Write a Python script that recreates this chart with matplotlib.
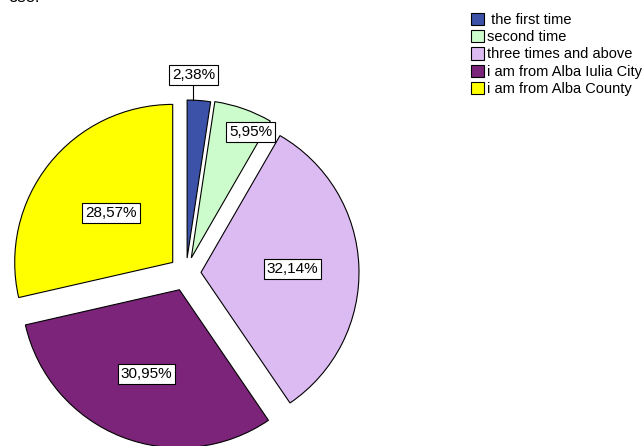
import numpy as np
import matplotlib.pyplot as plt

# visit frequency shares (percent)
labels = [" the first time", "second time", "three times and above",
          "i am from Alba Iulia City", "i am from Alba County"]
values = [2.38, 5.95, 32.14, 30.95, 28.57]
colors = ["#3c52a8", "#ccfccc", "#dcbaf2", "#7b2479", "#ffff00"]
explode = [15, 16, 15, 18, 17]
label_dist = [1.16, 0.88, 0.58, 0.57, 0.5]
label_turn = [2, -6, 0, 0, 0]   # degrees, nudges label around the slice

plt.rcParams["font.family"] = ["Liberation Sans", "DejaVu Sans"]

fig = plt.figure(figsize=(6.44, 4.46), dpi=100)
ax = fig.add_axes([0, 0, 1, 1])

wedges, _ = ax.pie(values, colors=colors, startangle=90, counterclock=False,
                   explode=explode, radius=158, center=(186, 173),
                   wedgeprops=dict(edgecolor="black", linewidth=0.8))
ax.set_xlim(0, 644)
ax.set_ylim(0, 446)
ax.set_aspect("equal")
ax.axis("off")

box = dict(boxstyle="square,pad=0.2", facecolor="white", edgecolor="black", linewidth=0.8)
for w, v, d, turn in zip(wedges, values, label_dist, label_turn):
    t = np.deg2rad((w.theta1 + w.theta2) / 2 + turn)
    cx, cy = w.center
    lx = cx + d * w.r * np.cos(t)
    ly = cy + d * w.r * np.sin(t)
    if d > 1:
        # leader line from outer edge up to the label box
        ex = cx + w.r * np.cos(t)
        ey = cy + w.r * np.sin(t)
        ax.plot([ex, ex], [ey, ly - 9], color="black", linewidth=0.8)
        lx = ex
    ax.text(lx, ly, f"{v:.2f}%".replace(".", ","), ha="center", va="center",
            fontsize=11, bbox=box)

ax.legend(wedges, labels, loc="upper left", bbox_to_anchor=(465 / 644, 1 - 7 / 446),
          frameon=False, fontsize=10.5, handlelength=0.9, handleheight=0.9,
          handletextpad=0.2, labelspacing=0.22, borderaxespad=0)

# bits of the cropped caption line above the chart
fig.text(8 / 644, 1 + 10 / 446, "ose.", fontsize=12, va="top", ha="left")

fig.savefig("out.png", dpi=100)
